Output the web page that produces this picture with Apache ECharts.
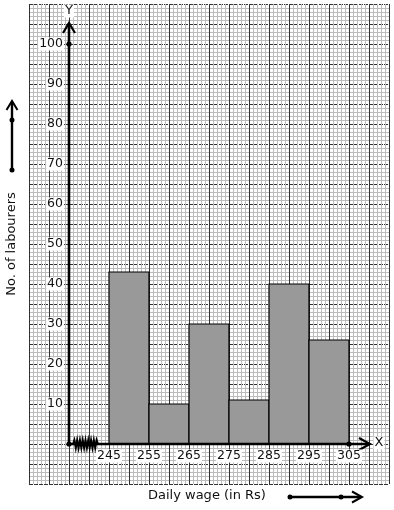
<!DOCTYPE html>
<html>
<head>
<meta charset="utf-8">
<script src="https://cdn.jsdelivr.net/npm/echarts@6/dist/echarts.min.js"></script>
<style>
html,body{margin:0;padding:0;background:#fff;}
#chart{width:394px;height:510px;}
</style>
</head>
<body>
<div id="chart"></div>
<script>
// ---- data ----
const categories = ['245-255', '255-265', '265-275', '275-285', '285-295', '295-305'];
const classStarts = [245, 255, 265, 275, 285, 295];
const classEnds = [255, 265, 275, 285, 295, 305];
const labourers = [43, 10, 30, 11, 40, 26];
const xTickLabels = [245, 255, 265, 275, 285, 295, 305];
const yTickLabels = [10, 20, 30, 40, 50, 60, 70, 80, 90, 100];
const xTitle = 'Daily wage (in Rs)';
const yTitle = 'No. of labourers';

const FONT = '"DejaVu Sans", sans-serif';
const X0 = 235; // where the broken x axis starts (origin)

const chart = echarts.init(document.getElementById('chart'), null, {renderer: 'canvas'});

const option = {
  backgroundColor: '#fff',
  animation: false,
  grid: {left: 29, right: 5, top: 4, bottom: 26, containLabel: false},
  xAxis: {
    type: 'value', min: 225, max: 315, interval: 5,
    axisLine: {show: false}, axisTick: {show: false}, axisLabel: {show: false},
    splitLine: {show: true, showMinLine: true, showMaxLine: true, lineStyle: {color: '#333333', width: 1}},
    minorTick: {show: false, splitNumber: 5},
    minorSplitLine: {show: true, lineStyle: {color: '#bcbcbc', width: 1}}
  },
  yAxis: {
    type: 'value', min: -10, max: 110, interval: 5,
    axisLine: {show: false}, axisTick: {show: false}, axisLabel: {show: false},
    splitLine: {show: true, showMinLine: true, showMaxLine: true, lineStyle: {color: '#333333', width: 1, type: [4, 1]}},
    minorTick: {show: false, splitNumber: 5},
    minorSplitLine: {show: true, lineStyle: {color: '#bcbcbc', width: 1}}
  },
  series: [
    {
      name: 'labourers',
      type: 'custom',
      z: 2,
      clip: false,
      data: classStarts.map((s, i) => [s, classEnds[i], labourers[i], categories[i]]),
      renderItem: function (params, api) {
        const p1 = api.coord([api.value(0), api.value(2)]);
        const p2 = api.coord([api.value(1), 0]);
        return {
          type: 'rect',
          shape: {x: p1[0], y: p1[1], width: p2[0] - p1[0], height: p2[1] - p1[1]},
          style: {fill: '#999999', stroke: '#000', lineWidth: 1.2}
        };
      }
    },
    {
      name: 'axes',
      type: 'custom',
      z: 3,
      clip: false,
      silent: true,
      data: [[X0, 0]],
      renderItem: function (params, api) {
        const o = api.coord([X0, 0]);
        const yTop = api.coord([X0, 105.25]);
        const xEnd = api.coord([310.25, 0]);
        const d100 = api.coord([X0, 100]);
        const d305 = api.coord([305, 0]);
        const ch = [];
        // y axis
        ch.push({type: 'line', shape: {x1: o[0], y1: o[1], x2: yTop[0], y2: yTop[1]}, style: {stroke: '#000', lineWidth: 2.6}});
        ch.push({type: 'polyline', shape: {points: [[yTop[0] - 6, yTop[1] + 10], [yTop[0], yTop[1]], [yTop[0] + 6, yTop[1] + 10]]}, style: {stroke: '#000', lineWidth: 2.2, fill: null}});
        // x axis
        ch.push({type: 'line', shape: {x1: o[0], y1: o[1], x2: xEnd[0], y2: xEnd[1]}, style: {stroke: '#000', lineWidth: 2.6}});
        ch.push({type: 'polyline', shape: {points: [[xEnd[0] - 11, xEnd[1] - 6], [xEnd[0], xEnd[1]], [xEnd[0] - 11, xEnd[1] + 6]]}, style: {stroke: '#000', lineWidth: 2.2, fill: null}});
        // zigzag (axis break)
        const zz = [];
        const zStart = o[0] + 4, zEnd = o[0] + 29, n = 18;
        for (let i = 0; i <= n; i++) {
          zz.push([zStart + (zEnd - zStart) * i / n, o[1] + (i === 0 || i === n ? 0 : (i % 2 ? -4 : 4))]);
        }
        ch.push({type: 'polyline', shape: {points: zz}, style: {stroke: '#000', lineWidth: 2, fill: null}});
        // dots
        [o, d100, d305].forEach(p => ch.push({type: 'circle', shape: {cx: p[0], cy: p[1], r: 2.6}, style: {fill: '#000'}}));
        // axis letters
        ch.push({type: 'text', style: {text: 'Y', x: yTop[0], y: yTop[1] - 12, align: 'center', verticalAlign: 'middle', font: '13px ' + FONT, fill: '#111', backgroundColor: '#fff', padding: [0, 1]}});
        ch.push({type: 'text', style: {text: 'X', x: xEnd[0] + 9, y: xEnd[1] - 1, align: 'center', verticalAlign: 'middle', font: '13px ' + FONT, fill: '#111', backgroundColor: '#fff', padding: [0, 1]}});
        return {type: 'group', children: ch};
      }
    },
    {
      name: 'xticks',
      type: 'custom',
      z: 4,
      clip: false,
      silent: true,
      data: xTickLabels.map(v => [v, 0]),
      renderItem: function (params, api) {
        const p = api.coord([api.value(0), 0]);
        return {
          type: 'text',
          style: {text: String(api.value(0)), x: p[0], y: p[1] + 12, align: 'center', verticalAlign: 'middle', font: '12.5px ' + FONT, fill: '#111', backgroundColor: '#fff', padding: [0, 1]}
        };
      }
    },
    {
      name: 'yticks',
      type: 'custom',
      z: 4,
      clip: false,
      silent: true,
      data: yTickLabels.map(v => [X0, v]),
      renderItem: function (params, api) {
        const p = api.coord([X0, api.value(1)]);
        return {
          type: 'text',
          style: {text: String(api.value(1)), x: p[0] - 5, y: p[1], align: 'right', verticalAlign: 'middle', font: '12.5px ' + FONT, fill: '#111', backgroundColor: '#fff', padding: [0, 1]}
        };
      }
    }
  ],
  graphic: [
    {type: 'text', left: 148, top: 489, style: {text: xTitle, font: '13px ' + FONT, fill: '#111'}},
    {type: 'text', x: 12, y: 244, rotation: Math.PI / 2, style: {text: yTitle, font: '13px ' + FONT, fill: '#111', align: 'center', verticalAlign: 'middle'}},
    // left arrow
    {type: 'line', shape: {x1: 12, y1: 170, x2: 12, y2: 102}, style: {stroke: '#000', lineWidth: 2.4}},
    {type: 'polyline', shape: {points: [[6.5, 110], [12, 101], [17.5, 110]]}, style: {stroke: '#000', lineWidth: 2, fill: null}},
    {type: 'circle', shape: {cx: 12, cy: 120, r: 2.5}, style: {fill: '#000'}},
    {type: 'circle', shape: {cx: 12, cy: 170, r: 2.5}, style: {fill: '#000'}},
    // bottom arrow
    {type: 'line', shape: {x1: 290, y1: 497, x2: 361, y2: 497}, style: {stroke: '#000', lineWidth: 2.4}},
    {type: 'polyline', shape: {points: [[352, 491.5], [362, 497], [352, 502.5]]}, style: {stroke: '#000', lineWidth: 2, fill: null}},
    {type: 'circle', shape: {cx: 290, cy: 497, r: 2.5}, style: {fill: '#000'}},
    {type: 'circle', shape: {cx: 341, cy: 497, r: 2.5}, style: {fill: '#000'}}
  ]
};

chart.setOption(option);
</script>
</body>
</html>
